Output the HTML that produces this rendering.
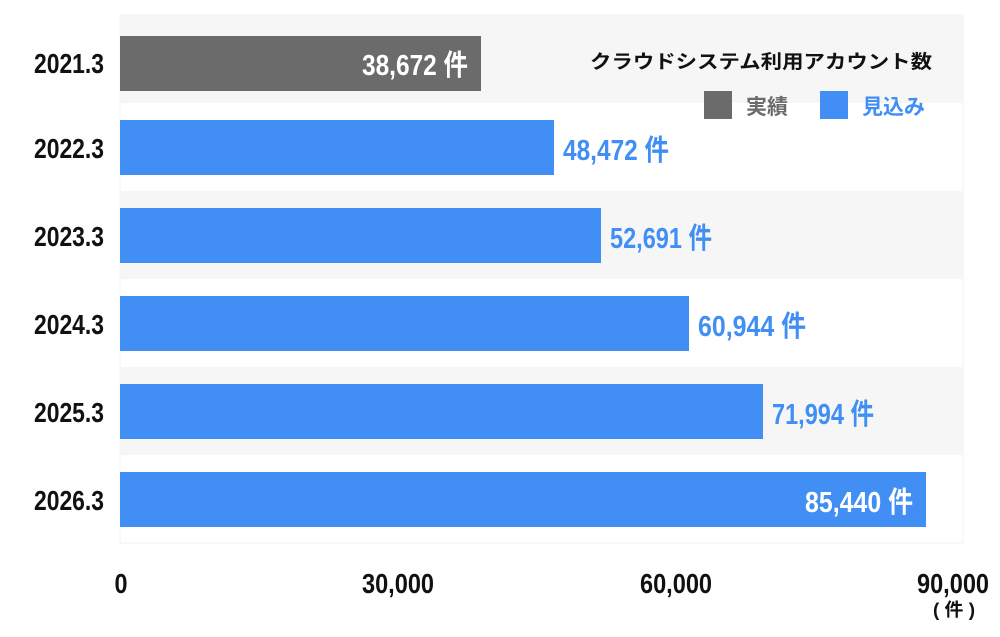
<!DOCTYPE html>
<html><head><meta charset="utf-8"><style>
body{margin:0;background:#fff}
svg text{font-family:"Liberation Sans","Noto Sans CJK JP",sans-serif;font-weight:bold}
</style></head><body>
<svg width="1000" height="632" viewBox="0 0 1000 632">
<rect x="120" y="15" width="843" height="528" fill="#fff" stroke="#f0f0f0"/>
<rect x="120" y="15" width="843" height="88" fill="#f6f6f6"/>
<rect x="120" y="191" width="843" height="88" fill="#f6f6f6"/>
<rect x="120" y="367" width="843" height="88" fill="#f6f6f6"/>
<rect x="120" y="36" width="361" height="55" fill="#6b6b6b"/>
<rect x="120" y="120" width="434" height="55" fill="#418ff5"/>
<rect x="120" y="208" width="481" height="55" fill="#418ff5"/>
<rect x="120" y="296" width="569" height="55" fill="#418ff5"/>
<rect x="120" y="384" width="643" height="55" fill="#418ff5"/>
<rect x="120" y="472" width="806" height="55" fill="#418ff5"/>
<g font-size="28" fill="#111" text-anchor="end">
<text x="104" y="73" textLength="70" lengthAdjust="spacingAndGlyphs">2021.3</text>
<text x="104" y="158" textLength="70" lengthAdjust="spacingAndGlyphs">2022.3</text>
<text x="104" y="246" textLength="70" lengthAdjust="spacingAndGlyphs">2023.3</text>
<text x="104" y="334" textLength="70" lengthAdjust="spacingAndGlyphs">2024.3</text>
<text x="104" y="422" textLength="70" lengthAdjust="spacingAndGlyphs">2025.3</text>
<text x="104" y="510" textLength="70" lengthAdjust="spacingAndGlyphs">2026.3</text>
</g>
<g font-size="29">
<text x="362" y="75" fill="#fff" textLength="106" lengthAdjust="spacingAndGlyphs">38,672 件</text>
<text x="563" y="160" fill="#418ff5" textLength="106" lengthAdjust="spacingAndGlyphs">48,472 件</text>
<text x="610" y="248" fill="#418ff5" textLength="102" lengthAdjust="spacingAndGlyphs">52,691 件</text>
<text x="698" y="336" fill="#418ff5" textLength="108" lengthAdjust="spacingAndGlyphs">60,944 件</text>
<text x="772" y="424" fill="#418ff5" textLength="102" lengthAdjust="spacingAndGlyphs">71,994 件</text>
<text x="805" y="512" fill="#fff" textLength="108" lengthAdjust="spacingAndGlyphs">85,440 件</text>
</g>
<text x="590" y="68" font-size="19" fill="#111" textLength="342" lengthAdjust="spacingAndGlyphs">クラウドシステム利用アカウント数</text>
<rect x="704" y="91" width="28" height="28" fill="#6b6b6b"/>
<text x="746" y="114" font-size="21" fill="#6b6b6b">実績</text>
<rect x="820" y="91" width="28" height="28" fill="#418ff5"/>
<text x="862" y="114" font-size="21" fill="#418ff5">見込み</text>
<g font-size="28" fill="#111" text-anchor="middle">
<text x="121" y="593" textLength="13" lengthAdjust="spacingAndGlyphs">0</text>
<text x="398" y="593" textLength="72" lengthAdjust="spacingAndGlyphs">30,000</text>
<text x="676" y="593" textLength="72" lengthAdjust="spacingAndGlyphs">60,000</text>
<text x="953" y="593" textLength="72" lengthAdjust="spacingAndGlyphs">90,000</text>
<text x="954" y="616" font-size="18" textLength="42" lengthAdjust="spacingAndGlyphs">( 件 )</text>
</g>
</svg>
</body></html>
